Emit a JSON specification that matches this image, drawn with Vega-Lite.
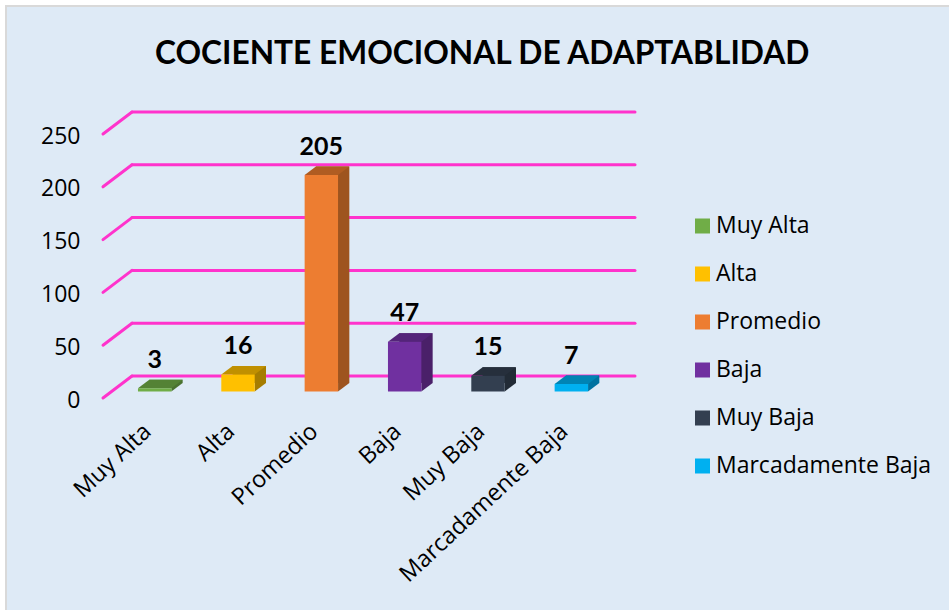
{"$schema":"https://vega.github.io/schema/vega-lite/v6.json","width":950,"height":612,"autosize":"none","padding":{"left":6,"top":6,"right":0,"bottom":0},"background":"#FFFFFF","config":{"view":{"fill":"#DEEAF6","stroke":"#D9D9D9","strokeWidth":2},"font":"Open Sans"},"title":{"text":"COCIENTE EMOCIONAL DE ADAPTABLIDAD","font":"Lato","fontSize":31.7,"fontWeight":"bold","color":"#000000","anchor":"start","dx":149,"offset":-65},"datasets":{"bars":[{"nivel":"Muy Alta","casos":3},{"nivel":"Alta","casos":16},{"nivel":"Promedio","casos":205},{"nivel":"Baja","casos":47},{"nivel":"Muy Baja","casos":15},{"nivel":"Marcadamente Baja","casos":7}],"ticks":[{"t":0},{"t":50},{"t":100},{"t":150},{"t":200},{"t":250}]},"resolve":{"scale":{"color":"independent"}},"layer":[{"data":{"name":"ticks"},"mark":{"type":"rule","stroke":"#FF33CC","strokeWidth":3,"strokeCap":"round","yOffset":-22,"y2Offset":-22},"encoding":{"x":{"value":126},"x2":{"value":629},"y":{"field":"t","type":"quantitative","scale":{"domain":[0,250],"range":[392,128],"nice":false},"axis":{"orient":"left","offset":-74,"values":[0,50,100,150,200,250],"title":null,"domain":false,"ticks":false,"grid":false,"labelPadding":0,"labelOffset":2,"labelFontSize":23,"labelFont":"Open Sans","labelColor":"#000000"}},"y2":{"field":"t"}}},{"data":{"name":"ticks"},"mark":{"type":"rule","stroke":"#FF33CC","strokeWidth":3,"strokeCap":"round","y2Offset":-22},"encoding":{"x":{"value":97},"x2":{"value":126},"y":{"field":"t","type":"quantitative"},"y2":{"field":"t"}}},{"data":{"name":"bars"},"mark":{"type":"bar","size":33.4,"xOffset":11.3,"yOffset":-15,"y2Offset":-15},"encoding":{"x":{"field":"nivel","type":"nominal","sort":null,"scale":{"type":"band","range":[107,607],"paddingInner":0,"paddingOuter":0},"axis":{"orient":"bottom","offset":-199,"title":null,"domain":false,"ticks":false,"labelAngle":-43,"labelAlign":"right","labelBaseline":"top","labelPadding":0,"labelOffset":-15,"labelLimit":400,"labelFontSize":23.5,"labelFont":"Open Sans","labelColor":"#000000"}},"y":{"field":"casos","type":"quantitative","stack":null},"y2":{"datum":0},"color":{"field":"nivel","type":"nominal","sort":null,"legend":null,"scale":{"domain":["Muy Alta","Alta","Promedio","Baja","Muy Baja","Marcadamente Baja"],"range":["#4A7230","#A67D00","#9E541F","#4A2069","#222B36","#0072A0"]}}}},{"data":{"name":"bars"},"mark":{"type":"point","filled":true,"opacity":1,"size":4,"strokeWidth":0,"shape":"M16.7,0L28,-8.5L16.7,-8.5Z","yOffset":-6.5},"encoding":{"x":{"field":"nivel","type":"nominal","sort":null},"y":{"datum":0,"type":"quantitative"},"color":{"field":"nivel","type":"nominal","sort":null,"legend":null,"scale":{"domain":["Muy Alta","Alta","Promedio","Baja","Muy Baja","Marcadamente Baja"],"range":["#4A7230","#A67D00","#9E541F","#4A2069","#222B36","#0072A0"]}}}},{"data":{"name":"bars"},"mark":{"type":"point","filled":true,"opacity":1,"size":4,"strokeWidth":0,"shape":"M-16.7,0L16.7,0L28,-8.5L-5.4,-8.5Z","yOffset":-6.5},"encoding":{"x":{"field":"nivel","type":"nominal","sort":null},"y":{"field":"casos","type":"quantitative"},"color":{"field":"nivel","type":"nominal","sort":null,"legend":null,"scale":{"domain":["Muy Alta","Alta","Promedio","Baja","Muy Baja","Marcadamente Baja"],"range":["#548235","#C09000","#B05C22","#54247A","#262F3C","#0084B4"]}}}},{"data":{"name":"bars"},"mark":{"type":"bar","size":33.4,"yOffset":-6.5,"y2Offset":-6.5},"encoding":{"x":{"field":"nivel","type":"nominal","sort":null},"y":{"field":"casos","type":"quantitative","stack":null},"y2":{"datum":0},"color":{"field":"nivel","type":"nominal","sort":null,"scale":{"domain":["Muy Alta","Alta","Promedio","Baja","Muy Baja","Marcadamente Baja"],"range":["#70AD47","#FFC000","#ED7D31","#7030A0","#333F50","#00B0F0"]},"legend":{"title":null,"orient":"none","legendX":685,"legendY":205,"symbolType":"square","symbolSize":225,"symbolStrokeWidth":0,"symbolOpacity":1,"labelFontSize":23,"labelFont":"Open Sans","labelColor":"#000000","labelOffset":2,"rowPadding":18,"clipHeight":30,"labelLimit":300}}}},{"data":{"name":"bars"},"mark":{"type":"text","font":"Lato","fontSize":25,"fontWeight":"bold","color":"#000000","baseline":"middle","yOffset":-35},"encoding":{"x":{"field":"nivel","type":"nominal","sort":null},"y":{"field":"casos","type":"quantitative"},"text":{"field":"casos","type":"quantitative"}}}]}
